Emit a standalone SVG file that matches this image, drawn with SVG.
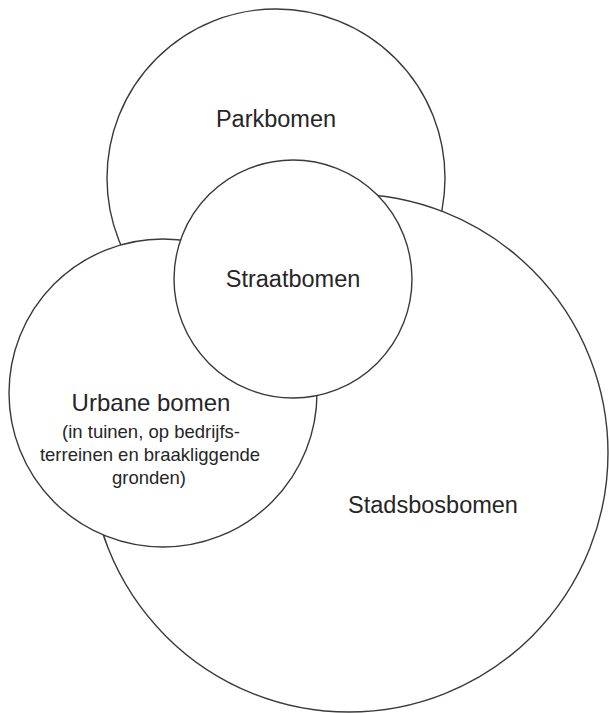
<svg xmlns="http://www.w3.org/2000/svg" width="609" height="713" viewBox="0 0 609 713">
<style>
.c{fill:#fff;stroke:#3a3a3a;stroke-width:1.4}
.t{font-family:"Liberation Sans",Arial,sans-serif;fill:#262626;text-anchor:middle}
.l{font-size:23.5px}
.s{font-size:18.5px}
</style>
<rect width="609" height="713" fill="#fff"/>
<g id="parkbomen"><circle class="c" cx="276" cy="178" r="169"/><text class="t l" x="276" y="127">Parkbomen</text></g>
<g id="stadsbosbomen"><circle class="c" cx="349" cy="453" r="259"/><text class="t l" x="433" y="513">Stadsbosbomen</text></g>
<g id="urbane"><circle class="c" cx="163" cy="393" r="154"/><text class="t" x="151" y="411" style="font-size:24px">Urbane bomen</text>
<text class="t s" x="151" y="438">(in tuinen, op bedrijfs-</text>
<text class="t s" x="150" y="461">terreinen en braakliggende</text>
<text class="t s" x="149" y="484">gronden)</text></g>
<g id="straatbomen"><circle class="c" cx="293" cy="279" r="119"/><text class="t l" x="293" y="287">Straatbomen</text></g>
<g id="connectors"/>
</svg>
